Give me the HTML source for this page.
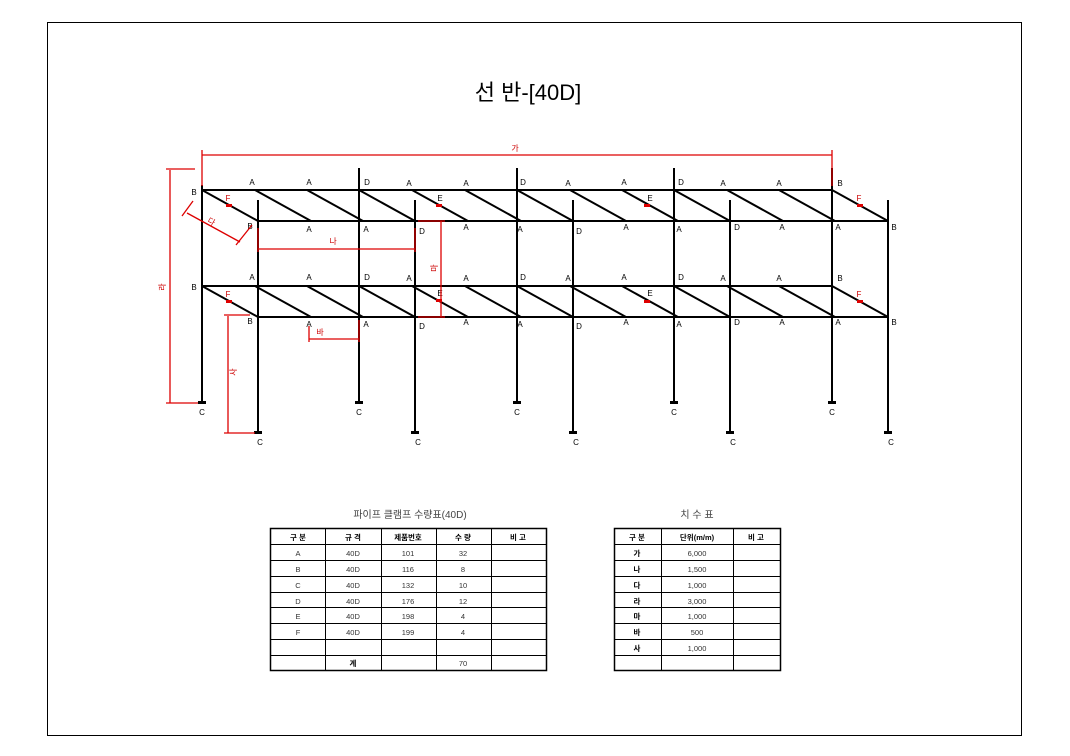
<!DOCTYPE html>
<html><head><meta charset="utf-8"><style>
body{margin:0;background:#fff}
svg{display:block}
text{font-family:"Liberation Sans","Noto Sans CJK KR",sans-serif}
</style></head><body>
<svg width="1070" height="756" viewBox="0 0 1070 756" xmlns="http://www.w3.org/2000/svg">
<rect x="47.5" y="22.5" width="974" height="713" fill="none" stroke="#000" stroke-width="1"/>
<text x="528" y="100" font-size="22" text-anchor="middle">선 반-[40D]</text>
<g stroke="#000" stroke-width="2">
<line x1="202" y1="185" x2="202" y2="403"/><line x1="359" y1="168" x2="359" y2="403"/><line x1="517" y1="168" x2="517" y2="403"/><line x1="674" y1="168" x2="674" y2="403"/><line x1="832" y1="168" x2="832" y2="403"/>
<line x1="258" y1="200" x2="258" y2="433"/><line x1="415" y1="200" x2="415" y2="433"/><line x1="573" y1="200" x2="573" y2="433"/><line x1="730" y1="200" x2="730" y2="433"/><line x1="888" y1="200" x2="888" y2="433"/>
<line x1="202" y1="190" x2="832" y2="190"/><line x1="258" y1="221" x2="888" y2="221"/>
<line x1="202" y1="286" x2="832" y2="286"/><line x1="258" y1="317" x2="888" y2="317"/>
</g>
<g stroke="#000" stroke-width="2" id="br">
<line x1="202" y1="190" x2="258" y2="221"/><line x1="255" y1="190" x2="311" y2="221"/><line x1="307" y1="190" x2="363" y2="221"/><line x1="359" y1="190" x2="415" y2="221"/><line x1="412" y1="190" x2="468" y2="221"/><line x1="465" y1="190" x2="521" y2="221"/><line x1="517" y1="190" x2="573" y2="221"/><line x1="570" y1="190" x2="626" y2="221"/><line x1="622" y1="190" x2="678" y2="221"/><line x1="674" y1="190" x2="730" y2="221"/><line x1="727" y1="190" x2="783" y2="221"/><line x1="779" y1="190" x2="835" y2="221"/><line x1="832" y1="190" x2="888" y2="221"/>
</g>
<use href="#br" y="96"/>
<g fill="#000">
<rect x="198" y="401" width="8" height="3"/><rect x="355" y="401" width="8" height="3"/><rect x="513" y="401" width="8" height="3"/><rect x="670" y="401" width="8" height="3"/><rect x="828" y="401" width="8" height="3"/>
<rect x="254" y="431" width="8" height="3"/><rect x="411" y="431" width="8" height="3"/><rect x="569" y="431" width="8" height="3"/><rect x="726" y="431" width="8" height="3"/><rect x="884" y="431" width="8" height="3"/>
</g>
<g font-size="8" fill="#000" text-anchor="middle">
<text x="202" y="415">C</text><text x="359" y="415">C</text><text x="517" y="415">C</text><text x="674" y="415">C</text><text x="832" y="415">C</text>
<text x="260" y="445">C</text><text x="418" y="445">C</text><text x="576" y="445">C</text><text x="733" y="445">C</text><text x="891" y="445">C</text>
</g>
<g font-size="8" fill="#000" text-anchor="middle" id="lb">
<text x="194" y="195">B</text><text x="252" y="185">A</text><text x="309" y="185">A</text><text x="367" y="185">D</text><text x="409" y="186">A</text><text x="466" y="186">A</text><text x="523" y="185">D</text><text x="568" y="186">A</text><text x="624" y="185">A</text><text x="681" y="185">D</text><text x="723" y="186">A</text><text x="779" y="186">A</text><text x="840" y="186">B</text>
<text x="250" y="229">B</text><text x="309" y="232">A</text><text x="366" y="232">A</text><text x="422" y="234">D</text><text x="466" y="230">A</text><text x="520" y="232">A</text><text x="579" y="234">D</text><text x="626" y="230">A</text><text x="679" y="232">A</text><text x="737" y="230">D</text><text x="782" y="230">A</text><text x="838" y="230">A</text><text x="894" y="230">B</text>
<text x="440" y="201">E</text><text x="650" y="201">E</text>
</g>
<use href="#lb" y="95"/>
<g font-size="8" fill="#c00" text-anchor="middle"><text x="228" y="201">F</text><text x="859" y="201">F</text><text x="228" y="297">F</text><text x="859" y="297">F</text></g>
<g fill="#d00"><rect x="226" y="204" width="6" height="3"/><rect x="644" y="204" width="6" height="3"/><rect x="857" y="204" width="6" height="3"/><rect x="436" y="204" width="6" height="3"/><rect x="226" y="300" width="6" height="3"/><rect x="436" y="299" width="6" height="3"/><rect x="644" y="300" width="6" height="3"/><rect x="857" y="300" width="6" height="3"/></g>
<g stroke="#d00" stroke-width="1.3" fill="none">
<line x1="202" y1="155" x2="832" y2="155"/><line x1="202" y1="150" x2="202" y2="186"/><line x1="832" y1="150" x2="832" y2="186"/>
<line x1="170" y1="170" x2="170" y2="403"/><line x1="166" y1="169" x2="195" y2="169"/><line x1="166" y1="403" x2="198" y2="403"/>
<line x1="187" y1="213" x2="240" y2="242"/><line x1="182" y1="216" x2="193" y2="201"/><line x1="236" y1="245" x2="252" y2="225"/>
<line x1="258" y1="249" x2="415" y2="249"/><line x1="258" y1="228" x2="258" y2="252"/><line x1="415" y1="228" x2="415" y2="252"/>
<line x1="441" y1="221" x2="441" y2="317"/><line x1="418" y1="221" x2="445" y2="221"/><line x1="418" y1="317" x2="445" y2="317"/>
<line x1="309" y1="339" x2="359" y2="339"/><line x1="309" y1="326" x2="309" y2="342"/><line x1="359" y1="320" x2="359" y2="342"/>
<line x1="228" y1="316" x2="228" y2="433"/><line x1="224" y1="315" x2="250" y2="315"/><line x1="224" y1="433" x2="255" y2="433"/>
</g>
<g font-size="8" fill="#c00" text-anchor="middle">
<text x="515" y="151">가</text><text x="333" y="244">나</text><text x="320" y="335">바</text>
<text transform="translate(165,287) rotate(-90)">라</text><text transform="translate(437,268) rotate(-90)">마</text><text transform="translate(236,372) rotate(-90)">사</text><text transform="translate(210,224) rotate(30)">다</text>
</g>
<text x="410" y="518" font-size="10" text-anchor="middle" fill="#444">파이프 클램프 수량표(40D)</text>
<text x="697" y="518" font-size="10" text-anchor="middle" fill="#444">치 수 표</text>
<g stroke="#000" stroke-width="1" fill="none">
<rect x="270.5" y="528.5" width="276" height="142" stroke-width="1.5"/>
<line x1="325.5" y1="528" x2="325.5" y2="671"/><line x1="381.5" y1="528" x2="381.5" y2="671"/><line x1="436.5" y1="528" x2="436.5" y2="671"/><line x1="491.5" y1="528" x2="491.5" y2="671"/>
<line x1="270" y1="544.5" x2="546" y2="544.5"/><line x1="270" y1="560.5" x2="546" y2="560.5"/><line x1="270" y1="576.5" x2="546" y2="576.5"/><line x1="270" y1="592.5" x2="546" y2="592.5"/><line x1="270" y1="607.5" x2="546" y2="607.5"/><line x1="270" y1="623.5" x2="546" y2="623.5"/><line x1="270" y1="639.5" x2="546" y2="639.5"/><line x1="270" y1="655.5" x2="546" y2="655.5"/>
<rect x="614.5" y="528.5" width="166" height="142" stroke-width="1.5"/>
<line x1="661.5" y1="528" x2="661.5" y2="671"/><line x1="733.5" y1="528" x2="733.5" y2="671"/>
<line x1="614" y1="544.5" x2="780" y2="544.5"/><line x1="614" y1="560.5" x2="780" y2="560.5"/><line x1="614" y1="576.5" x2="780" y2="576.5"/><line x1="614" y1="592.5" x2="780" y2="592.5"/><line x1="614" y1="607.5" x2="780" y2="607.5"/><line x1="614" y1="623.5" x2="780" y2="623.5"/><line x1="614" y1="639.5" x2="780" y2="639.5"/><line x1="614" y1="655.5" x2="780" y2="655.5"/>
</g>
<g font-size="7.5" text-anchor="middle" fill="#000" font-weight="bold">
<text x="298" y="540">구 분</text><text x="353" y="540">규 격</text><text x="408" y="540">제품번호</text><text x="463" y="540">수 량</text><text x="518" y="540">비 고</text>
<text x="353" y="666">계</text>
<text x="637" y="540">구 분</text><text x="697" y="540">단위(m/m)</text><text x="756" y="540">비 고</text>
<text x="637" y="556">가</text><text x="637" y="572">나</text><text x="637" y="588">다</text><text x="637" y="604">라</text><text x="637" y="619">마</text><text x="637" y="635">바</text><text x="637" y="651">사</text>
</g>
<g font-size="7.5" text-anchor="middle" fill="#333">
<text x="298" y="556">A</text><text x="353" y="556">40D</text><text x="408" y="556">101</text><text x="463" y="556">32</text>
<text x="298" y="572">B</text><text x="353" y="572">40D</text><text x="408" y="572">116</text><text x="463" y="572">8</text>
<text x="298" y="588">C</text><text x="353" y="588">40D</text><text x="408" y="588">132</text><text x="463" y="588">10</text>
<text x="298" y="604">D</text><text x="353" y="604">40D</text><text x="408" y="604">176</text><text x="463" y="604">12</text>
<text x="298" y="619">E</text><text x="353" y="619">40D</text><text x="408" y="619">198</text><text x="463" y="619">4</text>
<text x="298" y="635">F</text><text x="353" y="635">40D</text><text x="408" y="635">199</text><text x="463" y="635">4</text>
<text x="463" y="666">70</text>
<text x="697" y="556">6,000</text><text x="697" y="572">1,500</text><text x="697" y="588">1,000</text><text x="697" y="604">3,000</text><text x="697" y="619">1,000</text><text x="697" y="635">500</text><text x="697" y="651">1,000</text>
</g>
</svg>
</body></html>
